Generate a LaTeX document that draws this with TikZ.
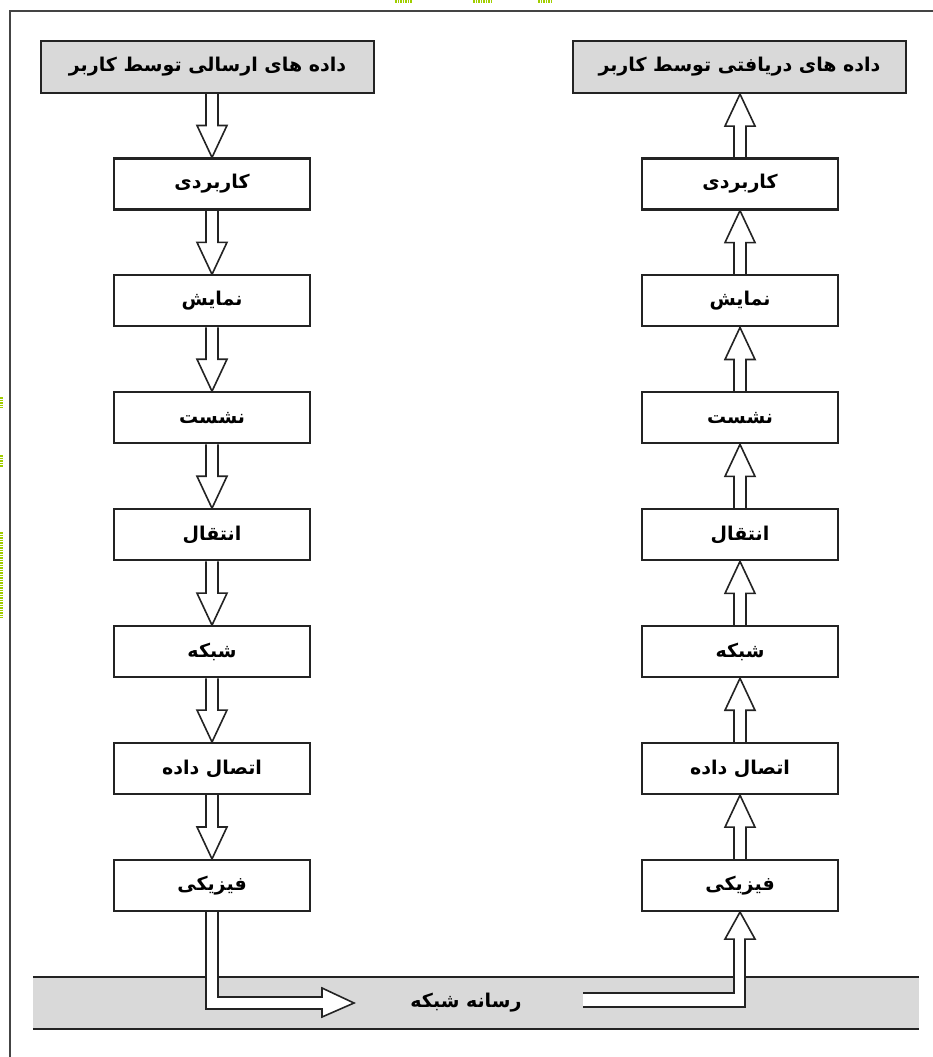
\documentclass[tikz,border=0pt]{standalone}
\usepackage{fontspec}
\TeXXeTstate=1
\newfontfamily\arfont[Script=Arabic]{DejaVu Sans}
\usetikzlibrary{calc}
\pgfdeclarelayer{back}
\pgfdeclarelayer{mid}
\pgfsetlayers{back,mid,main}
\definecolor{boxgray}{RGB}{217,217,217}
\definecolor{linegray}{RGB}{35,35,35}
\definecolor{ygreen}{RGB}{160,205,0}
\newcommand{\fa}[1]{\arfont\bfseries\beginR #1\endR}
\tikzset{
  layer/.style={draw=linegray, line width=2.1pt, fill=white, minimum width=196pt, minimum height=51pt, inner sep=0pt, font=\fontsize{19}{22}\selectfont},
  userbox/.style={layer, fill=boxgray, minimum width=333pt, minimum height=52pt},
  arr/.style={draw=linegray, line width=1.6pt, fill=white, line join=miter},
  frame/.style={draw=linegray!85, line width=2.8pt},
  bandline/.style={draw=linegray, line width=2pt},
  speck/.style={draw=ygreen, line width=2.5pt, dash pattern=on 1.5pt off 1pt}
}
\newcommand{\downarr}[2]{%
  \draw[arr] ($(#2.north |- #1.south)+(-6,0)$) -- ($(#2.north)+(-6,-32)$) -- ($(#2.north)+(-15,-32)$) -- (#2.north) -- ($(#2.north)+(15,-32)$) -- ($(#2.north)+(6,-32)$) -- ($(#2.north |- #1.south)+(6,0)$);}
\newcommand{\uparr}[2]{%
  \draw[arr] ($(#1.north)+(-6,0)$) -- ($(#1.north |- #2.south)+(-6,32)$) -- ($(#1.north |- #2.south)+(-15,32)$) -- (#1.north |- #2.south) -- ($(#1.north |- #2.south)+(15,32)$) -- ($(#1.north |- #2.south)+(6,32)$) -- ($(#1.north)+(6,0)$);}
\begin{document}
\begin{tikzpicture}[x=1pt,y=-1pt]
\useasboundingbox (0,0) rectangle (932,1057);
\begin{pgfonlayer}{back}
\fill[white] (0,0) rectangle (932,1057);
\end{pgfonlayer}
% frame
\draw[frame] (10,1060) -- (10,11) -- (935,11);
% specks
\draw[speck] (1.5,397) -- (1.5,408);
\draw[speck] (1.5,455) -- (1.5,467);
\draw[speck] (1.5,532) -- (1.5,618);
\draw[speck] (395,1.5) -- (412,1.5);
\draw[speck] (473,1.5) -- (491,1.5);
\draw[speck] (538,1.5) -- (553,1.5);
% band
\begin{pgfonlayer}{back}
\node[fill=boxgray, minimum width=886pt, minimum height=52pt, inner sep=0pt] (band) at (476,1003) {};
\draw[bandline] (band.north west) -- (band.north east);
\draw[bandline] (band.south west) -- (band.south east);
\end{pgfonlayer}
\node[font=\fontsize{19}{22}\selectfont, inner sep=0pt] (medium) at (466,1003) {\fa{رسانه شبکه}};
% user boxes
\node[userbox] (lu) at (207.5,67) {\fa{داده های ارسالی توسط کاربر}};
\node[userbox] (ru) at (739.5,67) {\fa{داده های دریافتی توسط کاربر}};
% left stack
\node[layer] (l1) at (212,184) {\fa{کاربردی}};
\node[layer] (l2) at (212,300.9) {\fa{نمایش}};
\node[layer] (l3) at (212,417.8) {\fa{نشست}};
\node[layer] (l4) at (212,534.8) {\fa{انتقال}};
\node[layer] (l5) at (212,651.7) {\fa{شبکه}};
\node[layer] (l6) at (212,768.6) {\fa{اتصال داده}};
\node[layer] (l7) at (212,885.5) {\fa{فیزیکی}};
% right stack
\node[layer] (r1) at (740,184) {\fa{کاربردی}};
\node[layer] (r2) at (740,300.9) {\fa{نمایش}};
\node[layer] (r3) at (740,417.8) {\fa{نشست}};
\node[layer] (r4) at (740,534.8) {\fa{انتقال}};
\node[layer] (r5) at (740,651.7) {\fa{شبکه}};
\node[layer] (r6) at (740,768.6) {\fa{اتصال داده}};
\node[layer] (r7) at (740,885.5) {\fa{فیزیکی}};
\begin{pgfonlayer}{mid}
% down arrows (left)
\downarr{lu}{l1}
\downarr{l1}{l2}
\downarr{l2}{l3}
\downarr{l3}{l4}
\downarr{l4}{l5}
\downarr{l5}{l6}
\downarr{l6}{l7}
% up arrows (right)
\uparr{r1}{ru}
\uparr{r2}{r1}
\uparr{r3}{r2}
\uparr{r4}{r3}
\uparr{r5}{r4}
\uparr{r6}{r5}
\uparr{r7}{r6}
% bent arrows through the medium
\coordinate (ltip) at (354,1003);
\coordinate (rtail) at (583,1000);
\draw[arr] ($(l7.south)+(-6,0)$) -- ($(l7.south |- ltip)+(-6,6)$) -- ($(ltip)+(-32,6)$) -- ($(ltip)+(-32,14)$) -- (ltip) -- ($(ltip)+(-32,-15)$) -- ($(ltip)+(-32,-6)$) -- ($(l7.south |- ltip)+(6,-6)$) -- ($(l7.south)+(6,0)$);
\draw[arr] ($(rtail)+(0,-7)$) -- ($(r7.south |- rtail)+(-6,-7)$) -- ($(r7.south)+(-6,27)$) -- ($(r7.south)+(-15,27)$) -- (r7.south) -- ($(r7.south)+(15,27)$) -- ($(r7.south)+(5,27)$) -- ($(r7.south |- rtail)+(5,7)$) -- ($(rtail)+(0,7)$);
\end{pgfonlayer}
\end{tikzpicture}
\end{document}
